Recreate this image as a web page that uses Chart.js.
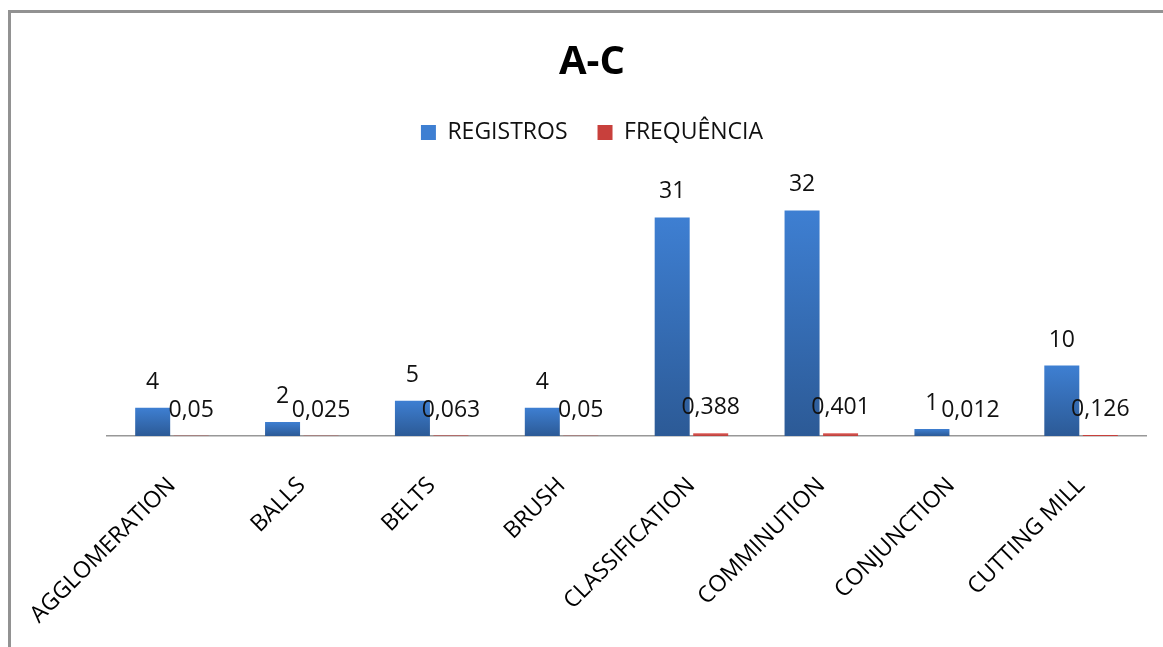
<!DOCTYPE html>
<html>
<head>
<meta charset="utf-8">
<script src="https://cdn.jsdelivr.net/npm/chart.js@4/dist/chart.umd.min.js"></script>
<style>
  html, body { margin: 0; padding: 0; background: #ffffff; overflow: hidden; }
  #wrap { position: relative; width: 1163px; height: 647px; }
  #frame { position: absolute; left: 8px; top: 10px; width: 1200px; height: 700px;
           border-top: 3px solid #929292; border-left: 3px solid #929292; pointer-events: none; }
  canvas { position: absolute; left: 0; top: 0; }
</style>
</head>
<body>
<div id="wrap">
  <canvas id="c" width="1163" height="647"></canvas>
  <div id="frame"></div>
</div>
<script>
const categories = ["AGGLOMERATION", "BALLS", "BELTS", "BRUSH", "CLASSIFICATION", "COMMINUTION", "CONJUNCTION", "CUTTING MILL"];
const registros = [4, 2, 5, 4, 31, 32, 1, 10];
const frequencia = [0.05, 0.025, 0.063, 0.05, 0.388, 0.401, 0.012, 0.126];
const seriesNames = ["REGISTROS", "FREQUÊNCIA"];
const chartTitle = "A-C";

const FONT = '"Open Sans", "DejaVu Sans", sans-serif';

function barFill(topColor, bottomColor, solid) {
  return function (ctx) {
    if (ctx.type !== 'data') return solid;
    const chart = ctx.chart;
    const y = chart.scales && chart.scales.y;
    if (!y || !chart.chartArea) return solid;
    const top = y.getPixelForValue(ctx.raw);
    const bottom = y.getPixelForValue(0);
    if (!isFinite(top) || !isFinite(bottom) || Math.abs(bottom - top) < 1) return solid;
    const g = chart.ctx.createLinearGradient(0, top, 0, bottom);
    g.addColorStop(0, topColor);
    g.addColorStop(1, bottomColor);
    return g;
  };
}

const valueLabels = {
  id: 'valueLabels',
  afterDatasetsDraw(chart) {
    const ctx = chart.ctx;
    ctx.save();
    ctx.font = '23px ' + FONT;
    ctx.fillStyle = '#111111';
    ctx.textAlign = 'center';
    ctx.textBaseline = 'alphabetic';
    chart.data.datasets.forEach((ds, i) => {
      const meta = chart.getDatasetMeta(i);
      meta.data.forEach((bar, j) => {
        const txt = String(ds.data[j]).replace('.', ',');
        ctx.fillText(txt, bar.x, bar.y - 19);
      });
    });
    ctx.restore();
  }
};

new Chart(document.getElementById('c'), {
  type: 'bar',
  data: {
    labels: categories,
    datasets: [
      {
        label: seriesNames[0],
        data: registros,
        backgroundColor: barFill('#3e7fd2', '#2c5a96', '#3a74c0'),
        borderWidth: 0,
        categoryPercentage: 0.593,
        barPercentage: 0.909
      },
      {
        label: seriesNames[1],
        data: frequencia,
        backgroundColor: barFill('#e0605c', '#b93c38', '#c8403c'),
        borderWidth: 0,
        categoryPercentage: 0.593,
        barPercentage: 0.909
      }
    ]
  },
  options: {
    responsive: false,
    animation: false,
    devicePixelRatio: 1,
    layout: { padding: { top: 10, left: 38, right: 17, bottom: 0 } },
    plugins: {
      title: {
        display: true,
        text: chartTitle,
        color: '#000000',
        font: { family: FONT, size: 40, weight: 'bold', lineHeight: 1.2 },
        padding: { top: 29, bottom: 4 }
      },
      legend: {
        display: true,
        position: 'top',
        labels: {
          color: '#111111',
          font: { family: FONT, size: 23 },
          boxWidth: 15,
          boxHeight: 15,
          padding: 30
        }
      },
      tooltip: { enabled: false }
    },
    scales: {
      x: {
        grid: { display: false, drawTicks: false },
        border: { display: true, color: '#989898', width: 1.5 },
        ticks: {
          color: '#000000',
          font: { family: FONT, size: 23 },
          minRotation: 45,
          maxRotation: 45,
          autoSkip: false,
          padding: 36
        },
        afterFit: (scale) => {
          scale.height = 211;
          scale.paddingLeft = 0;
          scale.paddingRight = 0;
        }
      },
      y: {
        min: 0,
        max: 40,
        grid: { display: false, drawTicks: false },
        border: { display: false },
        ticks: { display: false },
        afterFit: (scale) => { scale.width = 69; }
      }
    }
  },
  plugins: [valueLabels]
});
</script>
</body>
</html>
